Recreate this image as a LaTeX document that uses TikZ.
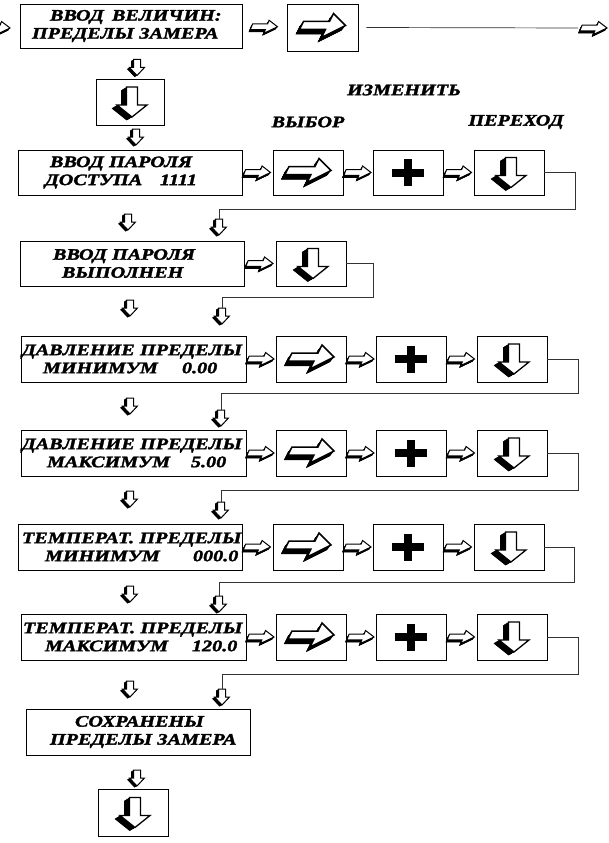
\documentclass[tikz,border=0pt]{standalone}
\usepackage{fontspec}
\setmainfont{Liberation Serif}[FakeStretch=1.26, BoldItalicFeatures={FakeBold=2}]
\usetikzlibrary{calc}
\newcommand\myfont{\fontsize{16}{18}\selectfont\bfseries\itshape}
\newcommand\at[2]{\makebox[0pt][l]{\hspace*{#1pt}#2}}
\tikzset{
  box/.style={draw, line width=0.8pt, inner sep=0pt, align=left, font=\myfont},
  sq/.style={draw, line width=0.8pt, inner sep=0pt, minimum width=70pt, minimum height=46pt},
  conn/.style={line width=0.7pt, draw=black!80},
  lbl/.style={font=\myfont, inner sep=0pt},
  sright/.pic={
    \begin{scope}[xslant=0.4]
    \foreach \d in {0.25,0.5,...,2.5}{
      \fill[shift={(-0.3*\d,1*\d)}] (-13,-2.8) -- (2,-2.8) -- (2,-6.5) -- (13,0) -- (2,6.5) -- (2,2.8) -- (-13,2.8) -- cycle;
    }
    \filldraw[fill=white, line width=1pt] (-13,-2.8) -- (2,-2.8) -- (2,-6.5) -- (13,0) -- (2,6.5) -- (2,2.8) -- (-13,2.8) -- cycle;
    \end{scope}
    \coordinate (-w) at (-13,0);
    \coordinate (-e) at (13,0);
  },
  sdown/.pic={
    \foreach \d in {0.25,0.5,...,2.5}{
      \fill[shift={(-1*\d,0.6*\d)}] (-3.5,-8) -- (3.5,-8) -- (3.5,0) -- (7.5,0) -- (0,8) -- (-7.5,0) -- (-3.5,0) -- cycle;
    }
    \filldraw[fill=white, line width=1pt] (-3.5,-8) -- (3.5,-8) -- (3.5,0) -- (7.5,0) -- (0,8) -- (-7.5,0) -- (-3.5,0) -- cycle;
    \coordinate (-n) at (0,-8);
  },
  bigright/.pic={
    \begin{scope}[yshift=2pt, xslant=0.5]
    \foreach \d in {0.25,0.5,...,5}{
      \fill[shift={(-0.3*\d,1*\d)}] (-21,-4) -- (5,-4) -- (5,-12) -- (23,0) -- (5,12) -- (5,4) -- (-21,4) -- cycle;
    }
    \filldraw[fill=white, line width=1.5pt] (-21,-4) -- (5,-4) -- (5,-12) -- (23,0) -- (5,12) -- (5,4) -- (-21,4) -- cycle;
    \end{scope}
  },
  bigdown/.pic={
    \begin{scope}[xshift=2pt]
    \foreach \d in {0.25,0.5,...,5.5}{
      \fill[shift={(-1*\d,0.6*\d)}] (-5.5,-15) -- (5.5,-15) -- (5.5,3) -- (15,3) -- (0,15) -- (-15,3) -- (-5.5,3) -- cycle;
    }
    \filldraw[fill=white, line width=1.3pt] (-5.5,-15) -- (5.5,-15) -- (5.5,3) -- (15,3) -- (0,15) -- (-15,3) -- (-5.5,3) -- cycle;
    \end{scope}
  },
  plus/.pic={
    \fill (-16,-4) rectangle (16,4);
    \fill (-4,-13.5) rectangle (4,13.5);
  }
}
\begin{document}
\begin{tikzpicture}[x=1pt,y=-1pt]
\useasboundingbox (0,0) rectangle (608,843);
\clip (0,0) rectangle (608,843);

% ---------- top row ----------
\node[box, text width=222pt, minimum height=44pt] (b0) at (131,26)
  {\at{30}{ВВОД}\at{92}{ВЕЛИЧИН:}\\\at{12}{ПРЕДЕЛЫ ЗАМЕРА}};
\node[sq, minimum width=71pt, minimum height=47pt] (b0a) at (322.5,27.5) {};
\pic at (b0a.center) {bigright};
\pic (s0) at (-3,28) {sright};
\pic at ($(b0.east)!0.5!(b0a.west)$) {sright};
\pic (s0e) at (594,28) {sright};
\draw[conn] ([xshift=8pt]b0a.east) -- ([xshift=-3pt]s0e-w);
\pic at (137,67.5) {sdown};
\node[sq, minimum width=68pt] (b0d) at (130,102) {};
\pic at (b0d.center) {bigdown};
\pic at (136,137) {sdown};

% labels
\node[lbl] (lch) at (404,90) {ИЗМЕНИТЬ};
\node[lbl] (lsel) at (308,122) {ВЫБОР};
\node[lbl] (lgo) at (516,122) {ПЕРЕХОД};

% ---------- row 1 ----------
\node[box, text width=224pt, minimum height=45pt] (r1) at (130,172.5)
  {\at{32}{ВВОД ПАРОЛЯ}\\\at{27}{ДОСТУПА}\at{142}{1111}};
\node[sq, minimum height=45pt] (r1a) at (308,172.5) {};
\node[sq, minimum height=45pt] (r1p) at (408,172.5) {};
\node[sq, minimum height=45pt] (r1d) at (509,172.5) {};
\pic at (r1a.center) {bigright};
\pic at (r1p.center) {plus};
\pic at (r1d.center) {bigdown};
\pic at ($(r1.east)!0.5!(r1a.west)$) {sright};
\pic at ($(r1a.east)!0.5!(r1p.west)$) {sright};
\pic at ($(r1p.east)!0.5!(r1d.west)$) {sright};
\pic at (128,222) {sdown};
\pic (q1) at (219,227) {sdown};
\draw[conn] (r1d.east) -| (575,209) -| (q1-n);

% ---------- row 2 ----------
\node[box, text width=224pt, minimum height=45pt] (r2) at (132,263.5)
  {\at{33}{ВВОД ПАРОЛЯ}\\\at{42}{ВЫПОЛНЕН}};
\node[sq, minimum height=45pt] (r2d) at (311,263.5) {};
\pic at (r2d.center) {bigdown};
\pic at ($(r2.east)!0.5!(r2d.west)$) {sright};
\pic at (130,308) {sdown};
\pic (q2) at (222,316) {sdown};
\draw[conn] (r2d.east) -| (373,297) -| (q2-n);

% ---------- row 3 ----------
\node[box, text width=225pt, minimum height=46pt] (r3) at (133.5,359)
  {\at{1}{ДАВЛЕНИЕ ПРЕДЕЛЫ}\\\at{22}{МИНИМУМ}\at{161}{0.00}};
\node[sq] (r3a) at (311,359) {};
\node[sq] (r3p) at (411,359) {};
\node[sq] (r3d) at (512,359) {};
\pic at (r3a.center) {bigright};
\pic at (r3p.center) {plus};
\pic at (r3d.center) {bigdown};
\pic at ($(r3.east)!0.5!(r3a.west)$) {sright};
\pic at ($(r3a.east)!0.5!(r3p.west)$) {sright};
\pic at ($(r3p.east)!0.5!(r3d.west)$) {sright};
\pic at (130,406) {sdown};
\pic (q3) at (221,418) {sdown};
\draw[conn] (r3d.east) -| (578,393) -| (q3-n);

% ---------- row 4 ----------
\node[box, text width=225pt, minimum height=46pt] (r4) at (133.5,453)
  {\at{1}{ДАВЛЕНИЕ ПРЕДЕЛЫ}\\\at{26}{МАКСИМУМ}\at{170}{5.00}};
\node[sq] (r4a) at (311,453) {};
\node[sq] (r4p) at (411,453) {};
\node[sq] (r4d) at (512,453) {};
\pic at (r4a.center) {bigright};
\pic at (r4p.center) {plus};
\pic at (r4d.center) {bigdown};
\pic at ($(r4.east)!0.5!(r4a.west)$) {sright};
\pic at ($(r4a.east)!0.5!(r4p.west)$) {sright};
\pic at ($(r4p.east)!0.5!(r4d.west)$) {sright};
\pic at (130,499) {sdown};
\pic (q4) at (221,510) {sdown};
\draw[conn] (r4d.east) -| (578,490) -| (q4-n);

% ---------- row 5 ----------
\node[box, text width=224pt, minimum height=46pt] (r5) at (130,547)
  {\at{4}{ТЕМПЕРАТ. ПРЕДЕЛЫ}\\\at{27}{МИНИМУМ}\at{175}{000.0}};
\node[sq] (r5a) at (308,547) {};
\node[sq] (r5p) at (408,547) {};
\node[sq] (r5d) at (509,547) {};
\pic at (r5a.center) {bigright};
\pic at (r5p.center) {plus};
\pic at (r5d.center) {bigdown};
\pic at ($(r5.east)!0.5!(r5a.west)$) {sright};
\pic at ($(r5a.east)!0.5!(r5p.west)$) {sright};
\pic at ($(r5p.east)!0.5!(r5d.west)$) {sright};
\pic at (130,594) {sdown};
\pic (q5) at (219,604) {sdown};
\draw[conn] (r5d.east) -| (574,582) -| (q5-n);

% ---------- row 6 ----------
\node[box, text width=225pt, minimum height=46pt] (r6) at (133.5,637)
  {\at{2}{ТЕМПЕРАТ. ПРЕДЕЛЫ}\\\at{24}{МАКСИМУМ}\at{171}{120.0}};
\node[sq] (r6a) at (311,637) {};
\node[sq] (r6p) at (411,637) {};
\node[sq] (r6d) at (512,637) {};
\pic at (r6a.center) {bigright};
\pic at (r6p.center) {plus};
\pic at (r6d.center) {bigdown};
\pic at ($(r6.east)!0.5!(r6a.west)$) {sright};
\pic at ($(r6a.east)!0.5!(r6p.west)$) {sright};
\pic at ($(r6p.east)!0.5!(r6d.west)$) {sright};
\pic at (130,689) {sdown};
\pic (q6) at (222,697) {sdown};
\draw[conn] (r6d.east) -| (578,674) -| (q6-n);

% ---------- end ----------
\node[box, text width=224pt, minimum height=46pt] (sv) at (138,732)
  {\at{49}{СОХРАНЕНЫ}\\\at{24}{ПРЕДЕЛЫ ЗАМЕРА}};
\pic at (137,778) {sdown};
\node[sq, minimum height=47pt] (fin) at (133,812.5) {};
\pic at (fin.center) {bigdown};
\end{tikzpicture}
\end{document}
